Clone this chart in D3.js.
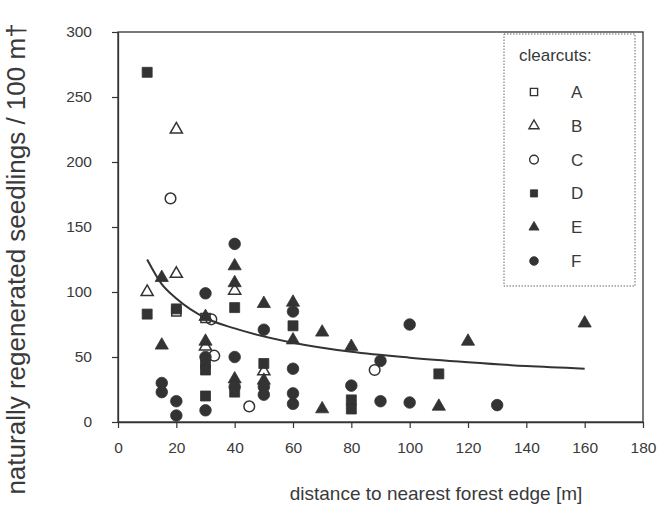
<!DOCTYPE html>
<html>
<head>
<meta charset="utf-8">
<script src="https://cdn.jsdelivr.net/npm/d3@7"></script>
<style>
  html, body { margin: 0; padding: 0; background: #ffffff; }
  svg { display: block; }
  text { font-family: "Liberation Sans", Arial, Helvetica, sans-serif; fill: #3a3a3a; }
</style>
</head>
<body>
<svg id="chart" width="672" height="516"></svg>
<script>
// ---------- data ----------
const seriesNames = ["A", "B", "C", "D", "E", "F"];
const seriesShapes = ["square", "triangle", "circle", "square", "triangle", "circle"];
const seriesFilled = [false, false, false, true, true, true];

const seriesA = [[20, 85], [30, 80]];
const seriesB = [[10, 100], [20, 225], [20, 114], [30, 58], [40, 101], [50, 39]];
const seriesC = [[18, 172], [32, 79], [33, 51], [45, 12], [88, 40]];
const seriesD = [[10, 269], [10, 83], [20, 87], [30, 45], [30, 40], [30, 20], [40, 88], [40, 23],
                 [50, 45], [60, 74], [80, 17], [80, 10], [110, 37]];
const seriesE = [[15, 111], [15, 59], [30, 81], [30, 62], [40, 120], [40, 107], [40, 33], [50, 91],
                 [50, 32], [60, 92], [60, 63], [70, 69], [70, 10], [80, 58], [110, 12], [120, 62], [160, 76]];
const seriesF = [[15, 30], [15, 23], [20, 16], [20, 5], [30, 99], [30, 50], [30, 9], [40, 137],
                 [40, 50], [40, 27], [50, 71], [50, 27], [50, 21], [60, 85], [60, 41], [60, 22],
                 [60, 14], [80, 28], [90, 47], [90, 16], [100, 75], [100, 15], [130, 13]];
const seriesValues = [seriesA, seriesB, seriesC, seriesD, seriesE, seriesF];

// fitted trend curve
const trendX = [10, 15, 20, 30, 40, 60, 80, 100, 120, 140, 160];
const trendY = [125, 106, 95, 80, 72, 61, 54, 49.5, 46, 43, 41];

const xTicks = [0, 20, 40, 60, 80, 100, 120, 140, 160, 180];
const yTicks = [0, 50, 100, 150, 200, 250, 300];

const xTitle = "distance to nearest forest edge [m]";
const yTitle = "naturally regenerated seedlings / 100 m†";
const legendTitle = "clearcuts:";

// ---------- drawing ----------
const ink = "#333333";
const svg = d3.select("#chart");

const x = d3.scaleLinear().domain([0, 180]).range([118, 643]);
const y = d3.scaleLinear().domain([0, 300]).range([422, 32]);

// plot frame
svg.append("rect")
  .attr("x", x(0)).attr("y", y(300))
  .attr("width", x(180) - x(0)).attr("height", y(0) - y(300))
  .attr("fill", "none").attr("stroke", ink).attr("stroke-width", 1.3);

// axes
const xAxis = svg.append("g")
  .attr("transform", `translate(0,${y(0)})`)
  .call(d3.axisBottom(x).tickValues(xTicks).tickSize(6).tickPadding(14).tickSizeOuter(0));
const yAxis = svg.append("g")
  .attr("transform", `translate(${x(0)},0)`)
  .call(d3.axisLeft(y).tickValues(yTicks).tickSize(6).tickPadding(20).tickSizeOuter(0));
[xAxis, yAxis].forEach(g => {
  g.select(".domain").attr("stroke", ink).attr("stroke-width", 1.3);
  g.selectAll(".tick line").attr("stroke", ink).attr("stroke-width", 1.2);
  g.selectAll(".tick text").attr("font-size", 15.5).style("fill", "#3a3a3a")
    .attr("font-family", '"Liberation Sans", Arial, sans-serif');
});

// axis titles
svg.append("text")
  .attr("x", 436).attr("y", 500)
  .attr("text-anchor", "middle").attr("font-size", 19)
  .text(xTitle);
svg.append("text")
  .attr("transform", "translate(25,259) rotate(-90)")
  .attr("text-anchor", "middle").attr("font-size", 26)
  .text(yTitle);

// markers
const symType = { square: d3.symbolSquare, triangle: d3.symbolTriangle, circle: d3.symbolCircle };
const symSize = { square: 100, triangle: 75, circle: 105 };

seriesValues.forEach((vals, i) => {
  const shape = seriesShapes[i];
  const filled = seriesFilled[i];
  svg.append("g").selectAll("path")
    .data(vals)
    .join("path")
    .attr("transform", d => `translate(${x(d[0])},${y(d[1])})`)
    .attr("d", d3.symbol().type(symType[shape]).size(filled ? symSize[shape] : symSize[shape] * 0.85))
    .attr("fill", filled ? ink : "none")
    .attr("stroke", ink)
    .attr("stroke-width", filled ? 0.8 : 1.5);
});

// trend line
const trend = trendX.map((v, i) => [v, trendY[i]]);
svg.append("path")
  .datum(trend)
  .attr("d", d3.line().x(d => x(d[0])).y(d => y(d[1])).curve(d3.curveMonotoneX))
  .attr("fill", "none").attr("stroke", ink).attr("stroke-width", 2);

// legend
const lg = svg.append("g");
lg.append("rect")
  .attr("x", 504).attr("y", 34).attr("width", 131).attr("height", 252)
  .attr("fill", "#ffffff").attr("stroke", "#666").attr("stroke-width", 1)
  .attr("stroke-dasharray", "1.5,1.5");
lg.append("text").attr("x", 519).attr("y", 61).attr("font-size", 17).text(legendTitle);
const rowY = d3.scaleLinear().domain([0, 5]).range([92, 261]);
const legSize = { square: 52, triangle: 44, circle: 60 };
seriesNames.forEach((name, i) => {
  const shape = seriesShapes[i];
  const filled = seriesFilled[i];
  lg.append("path")
    .attr("transform", `translate(534,${rowY(i)})`)
    .attr("d", d3.symbol().type(symType[shape]).size(legSize[shape]))
    .attr("fill", filled ? ink : "none")
    .attr("stroke", ink)
    .attr("stroke-width", filled ? 0.8 : 1.4);
  lg.append("text").attr("x", 571).attr("y", rowY(i) + 6)
    .attr("font-size", 17).text(name);
});
</script>
</body>
</html>
